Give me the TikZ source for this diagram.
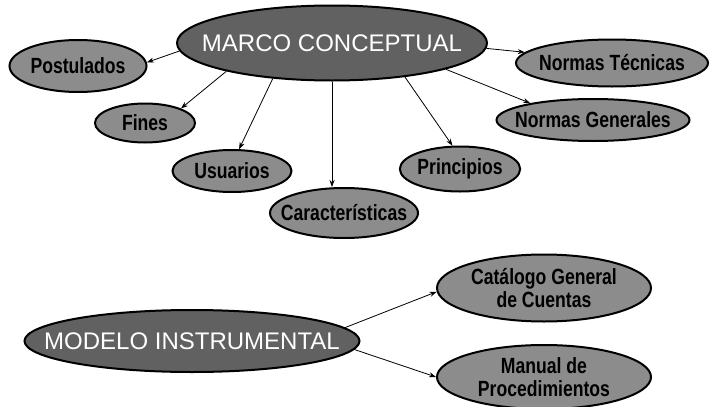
\documentclass[tikz,border=0pt]{standalone}
\usepackage{fontspec}
\setmainfont{Liberation Sans}
\newfontfamily\lblfont{Liberation Sans}[FakeStretch=0.8]
\usetikzlibrary{arrows.meta,shapes.geometric}

\begin{document}
\begin{tikzpicture}[x=1pt, y=-1pt,
  cpt/.style={ellipse, draw, line width=2pt, fill=black!62, text=white, inner sep=0pt,
    font=\fontsize{24}{26}\selectfont},
  itm/.style={ellipse, draw, line width=2pt, fill=black!45, inner sep=0pt,
    font=\lblfont\bfseries\fontsize{22}{23}\selectfont},
  squeeze/.style={execute at begin node={\hbox to 0pt\bgroup\hss},
    execute at end node={\hss\egroup}},
  arr/.style={-{Stealth[length=7pt, width=5pt]}, line width=0.8pt}]
  \useasboundingbox (0,0) rectangle (710,407);
  % marco conceptual
  \node[cpt, squeeze, minimum width=310pt, minimum height=75pt] (marco) at (332,43) {MARCO CONCEPTUAL};
  \node[itm, minimum width=137pt, minimum height=52pt] (post) at (78,66) {Postulados};
  \node[itm, minimum width=100pt, minimum height=39pt] (fines) at (145,123) {Fines};
  \node[itm, minimum width=119pt, minimum height=42pt] (usu) at (232,171) {Usuarios};
  \node[itm, squeeze, minimum width=148pt, minimum height=50pt] (carac) at (344,213) {Características};
  \node[itm, minimum width=120pt, minimum height=45pt] (princ) at (460,169) {Principios};
  \node[itm, squeeze, minimum width=192pt, minimum height=47pt] (ntec) at (612,63) {Normas Técnicas};
  \node[itm, squeeze, minimum width=193pt, minimum height=42pt] (ngen) at (593,120) {Normas Generales};
  \draw[arr] (marco.183) -- (post.3);
  \draw[arr] (marco.195) -- (fines.22);
  \draw[arr] (marco.211) -- (usu.72);
  \draw[arr] (marco.south) -- (marco.south |- carac.north);
  \draw[arr] (marco.335) -- (princ.108);
  \draw[arr] (marco.347) -- (ngen.165);
  \draw[arr] (marco.358) -- (ntec.173);
  % modelo instrumental
  \node[cpt, squeeze, minimum width=335pt, minimum height=62pt] (modelo) at (192,341) {MODELO INSTRUMENTAL};
  \node[itm, align=center, minimum width=214pt, minimum height=67pt] (catal) at (544,288) {Catálogo General\\de Cuentas};
  \node[itm, align=center, minimum width=214pt, minimum height=64pt] (manual) at (544,377) {Manual de\\Procedimientos};
  \draw[arr] (modelo.5) -- (catal.182);
  \draw[arr] (modelo.-3) -- (manual.west);
\end{tikzpicture}
\end{document}
